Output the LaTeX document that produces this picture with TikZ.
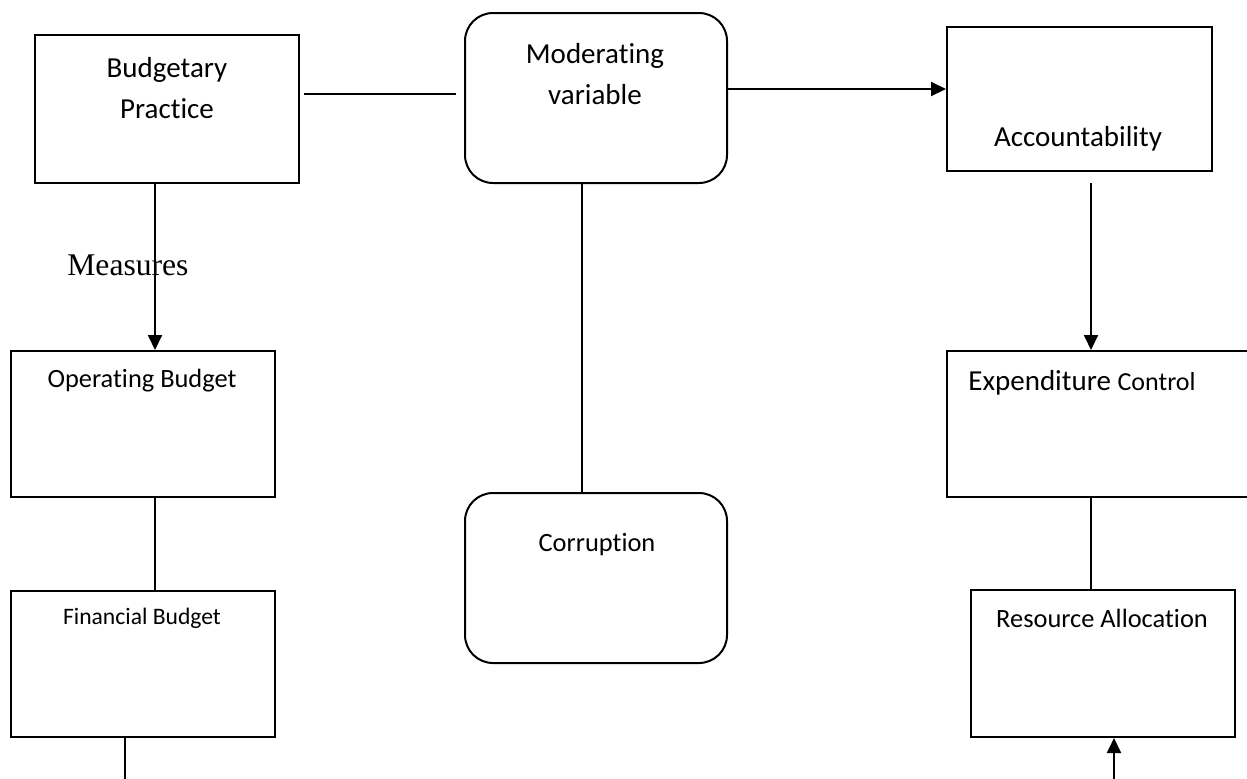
\documentclass[tikz,border=0pt]{standalone}
\usepackage{fontspec}
\setmainfont{Carlito}[Ligatures=NoCommon]
\newfontfamily\timesfont{Liberation Serif}
\usetikzlibrary{arrows.meta, positioning, calc}

\tikzset{
  box/.style={draw,line width=1pt,minimum width=#1,inner sep=0pt},
  roundbox/.style={box=131pt,rounded corners=14pt,minimum height=85pt},
  link/.style={line width=1pt},
  arr/.style={line width=1pt,-{Triangle[length=7.5pt,width=7pt]}},
  bigtxt/.style={font=\fontsize{14.5}{20.5}\selectfont,align=center},
  midtxt/.style={font=\fontsize{13.2}{16}\selectfont},
}

\begin{document}
\begin{tikzpicture}[x=0.5pt,y=-0.5pt]
  \clip (0,0) rectangle (1247,778);
  \fill[white] (0,0) rectangle (1247,778);

  % left column
  \node[box=132pt,minimum height=74pt] (budget) at (167,109) {};
  \node[box=132pt,minimum height=73pt] (operating) at (143,424) {};
  \node[box=132pt,minimum height=73pt] (financial) at (143,664) {};

  % middle column
  \node[roundbox] (moderating) at (596,98) {};
  \node[roundbox] (corruption) at (596,578) {};

  % right column
  \node[box=132.5pt,minimum height=72pt] (account) at (1079.5,99) {};
  \node[box=155pt,minimum height=73pt] (expend) at (1102,424) {};
  \node[box=132pt,minimum height=73.5pt] (resource) at (1103,663.5) {};

  % texts
  \node[bigtxt] (tbudget) at (167,88) {Budgetary\\Practice};
  \node[bigtxt] (tmoderating) at (595,74) {Moderating\\variable};
  \node[bigtxt,anchor=base] (taccount) at (1078,146) {Accountability};
  \node[midtxt,anchor=base] (toperating) at (142,387) {Operating Budget};
  \node[font=\fontsize{11.8}{14}\selectfont,anchor=base] (tfinancial)
    at (142,624) {Financial Budget};
  \node[anchor=base west,inner sep=0pt] (texpend) at (968,390)
    {\fontsize{14.5}{17}\selectfont Expenditure {\fontsize{13}{16}\selectfont Control}};
  \node[midtxt,anchor=base] (tresource) at (1102,627) {Resource Allocation};
  \node[midtxt,anchor=base] (tcorruption) at (597,551) {Corruption};
  \node[font=\timesfont\fontsize{15.8}{18}\selectfont,anchor=base west,inner sep=0pt]
    (measures) at (67,275) {Measures};

  % connectors
  \draw[link] ([shift={(4,-15)}]budget.east) -- ([shift={(-8,-4)}]moderating.west);
  \draw[arr] ([shift={(0,-9)}]moderating.east) -- ([shift={(0,-10)}]account.west);
  \draw[arr] ([xshift=-6pt]budget.south) -- ([xshift=6pt]operating.north);
  \draw[link] ([xshift=-7pt]moderating.south) -- ([xshift=-7pt]corruption.north);
  \draw[arr] ([shift={(11.5,11)}]account.south) -- ([xshift=-5.5pt]expend.north);
  \draw[link] ([xshift=6pt]operating.south) -- ([xshift=6pt]financial.north);
  \draw[link] ([xshift=-5.5pt]expend.south) -- ([xshift=-6pt]resource.north);

  % free ends at the lower edge
  \coordinate (lowleft) at (125,790);
  \coordinate (lowright) at (1114,790);
  \draw[link] ([xshift=-9pt]financial.south) -- (lowleft);
  \draw[arr] (lowright) -- ([xshift=5.5pt]resource.south);
\end{tikzpicture}
\end{document}
